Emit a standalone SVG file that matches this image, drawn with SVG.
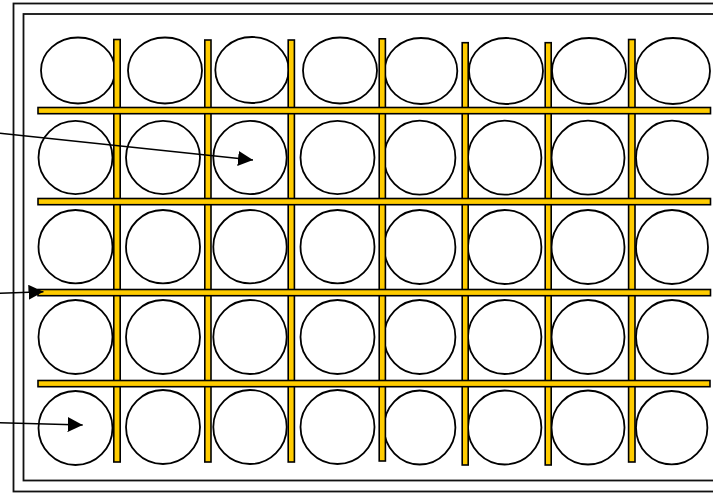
<svg xmlns="http://www.w3.org/2000/svg" width="713" height="493" viewBox="0 0 713 493">
<style>
.frame{fill:none;stroke:#111;stroke-width:1.8}
.well{fill:#fff;stroke:#000;stroke-width:1.8}
.bar{fill:#FFCC00;stroke:#000;stroke-width:1.6}
.arrow{fill:none;stroke:#000;stroke-width:1.5;marker-end:url(#ah)}
</style>
<defs>
<marker id="ah" viewBox="0 0 15 15" refX="15" refY="7.5" markerWidth="15" markerHeight="15" markerUnits="userSpaceOnUse" orient="auto">
<path d="M0,0 L15,7.5 L0,15 Z" fill="#000"/>
</marker>
</defs>
<rect width="713" height="493" fill="#fff"/>
<g id="frame">
<rect class="frame" x="13.5" y="3.5" width="705" height="488"/>
<rect class="frame" x="23.5" y="14" width="695" height="466.5"/>
</g>
<g id="wells">
<g id="row1">
<ellipse class="well" cx="78" cy="70.5" rx="37" ry="33"/>
<ellipse class="well" cx="165" cy="70.5" rx="37" ry="33"/>
<ellipse class="well" cx="252" cy="70" rx="36.7" ry="33"/>
<ellipse class="well" cx="340" cy="70.5" rx="37" ry="33"/>
<ellipse class="well" cx="421" cy="71" rx="36.3" ry="33"/>
<ellipse class="well" cx="506" cy="71" rx="37" ry="33"/>
<ellipse class="well" cx="589" cy="71" rx="37" ry="33"/>
<ellipse class="well" cx="673" cy="71" rx="37" ry="33"/>
</g>
<g id="row2">
<ellipse class="well" cx="75.5" cy="157.5" rx="37" ry="36.7"/>
<ellipse class="well" cx="163" cy="157.5" rx="37" ry="36.7"/>
<ellipse class="well" cx="250" cy="157.5" rx="36.7" ry="36.7"/>
<ellipse class="well" cx="337.5" cy="157.5" rx="37" ry="36.7"/>
<ellipse class="well" cx="419.7" cy="157.7" rx="35.7" ry="37"/>
<ellipse class="well" cx="504.7" cy="157.7" rx="36.7" ry="37"/>
<ellipse class="well" cx="588" cy="157.7" rx="36.5" ry="37"/>
<ellipse class="well" cx="672" cy="157.7" rx="36" ry="37"/>
</g>
<g id="row3">
<ellipse class="well" cx="75.5" cy="246.7" rx="37" ry="36.7"/>
<ellipse class="well" cx="163" cy="246.7" rx="37" ry="36.7"/>
<ellipse class="well" cx="250" cy="246.7" rx="36.7" ry="36.7"/>
<ellipse class="well" cx="337.5" cy="246.7" rx="37" ry="36.7"/>
<ellipse class="well" cx="419.7" cy="247" rx="35.7" ry="37"/>
<ellipse class="well" cx="504.7" cy="247" rx="36.7" ry="37"/>
<ellipse class="well" cx="588" cy="247" rx="36.5" ry="37"/>
<ellipse class="well" cx="672" cy="247" rx="36" ry="37"/>
</g>
<g id="row4">
<ellipse class="well" cx="75.5" cy="337" rx="37" ry="37"/>
<ellipse class="well" cx="163" cy="337" rx="37" ry="37"/>
<ellipse class="well" cx="250" cy="337" rx="36.7" ry="37"/>
<ellipse class="well" cx="337.5" cy="337" rx="37" ry="37"/>
<ellipse class="well" cx="419.7" cy="337" rx="35.7" ry="37"/>
<ellipse class="well" cx="504.7" cy="337" rx="36.7" ry="37"/>
<ellipse class="well" cx="588" cy="337" rx="36.5" ry="37"/>
<ellipse class="well" cx="672" cy="337" rx="36" ry="37"/>
</g>
<g id="row5">
<ellipse class="well" cx="75.5" cy="428" rx="37" ry="37"/>
<ellipse class="well" cx="163" cy="427" rx="37" ry="37"/>
<ellipse class="well" cx="250" cy="427" rx="36.7" ry="37"/>
<ellipse class="well" cx="337.5" cy="427" rx="37" ry="37"/>
<ellipse class="well" cx="419.7" cy="427.5" rx="35.7" ry="37"/>
<ellipse class="well" cx="504.7" cy="427.5" rx="36.7" ry="37"/>
<ellipse class="well" cx="588" cy="427.5" rx="36.5" ry="37"/>
<ellipse class="well" cx="671.7" cy="427.7" rx="35.7" ry="36.7"/>
</g>
</g>
<g id="vbars">
<rect class="bar" x="113.8" y="39.5" width="6.4" height="422.5"/>
<rect class="bar" x="204.8" y="40" width="6.2" height="422"/>
<rect class="bar" x="288.2" y="40" width="6.2" height="422"/>
<rect class="bar" x="379.2" y="38.8" width="6.2" height="422.2"/>
<rect class="bar" x="462.2" y="42.7" width="6" height="422.3"/>
<rect class="bar" x="545.2" y="42.7" width="6" height="422.3"/>
<rect class="bar" x="628.6" y="39.5" width="6.4" height="422.5"/>
</g>
<g id="hbars">
<rect class="bar" x="38" y="107.5" width="672.5" height="6.2"/>
<rect class="bar" x="38" y="198.5" width="672.5" height="6.2"/>
<rect class="bar" x="38" y="289.5" width="672.5" height="6.2"/>
<rect class="bar" x="38" y="380.5" width="672" height="6.2"/>
</g>
<g id="connectors">
<line class="arrow" x1="0" y1="133.3" x2="253" y2="160"/>
<line class="arrow" x1="0" y1="293.3" x2="43.5" y2="291.7"/>
<line class="arrow" x1="0" y1="422.7" x2="82.7" y2="425"/>
</g>
</svg>
